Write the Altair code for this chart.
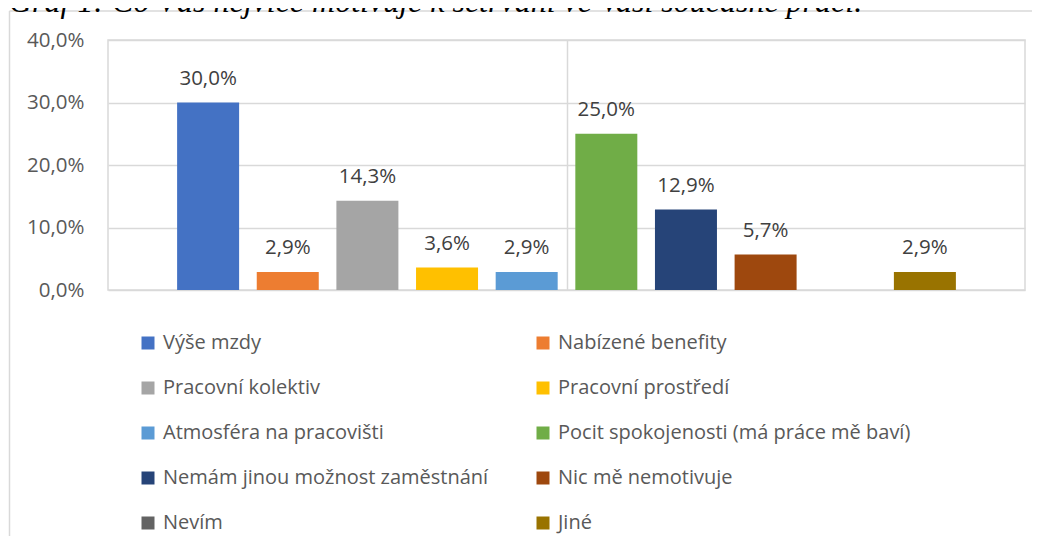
import altair as alt
import pandas as pd

categories = [
    "Výše mzdy", "Nabízené benefity", "Pracovní kolektiv", "Pracovní prostředí",
    "Atmosféra na pracovišti", "Pocit spokojenosti (má práce mě baví)",
    "Nemám jinou možnost zaměstnání", "Nic mě nemotivuje", "Nevím", "Jiné",
]
values = [0.300, 0.029, 0.143, 0.036, 0.029, 0.250, 0.129, 0.057, None, 0.029]
colors = ["#4472C4", "#ED7D31", "#A5A5A5", "#FFC000", "#5B9BD5",
          "#70AD47", "#264478", "#9E480E", "#636363", "#997300"]
y_ticks = [0.0, 0.1, 0.2, 0.3, 0.4]
title_text = ["Graf 1: Co Vás nejvíce motivuje k setrvání ve Vaší současné práci."]

df = pd.DataFrame({"cat": categories, "v": values, "i": list(range(len(categories)))})
df_title = pd.DataFrame({"t": title_text})

FONT = "Open Sans"
GRID = "#d9d9d9"

x_enc = alt.X("i:Q", scale=alt.Scale(domain=[-1.257, 10.257], nice=False, zero=False,
                                     padding=0),
              axis=alt.Axis(values=[4.5], grid=True, gridColor=GRID, gridWidth=1.5,
                            labels=False, ticks=False, domain=False, title=None))
y_enc = alt.Y("v:Q", scale=alt.Scale(domain=[0, 0.4], nice=False),
              axis=alt.Axis(values=y_ticks, grid=True, gridColor=GRID, gridWidth=1.5,
                            domain=False, ticks=False, title=None, labelPadding=24,
                            labelFont=FONT, labelFontSize=20.5, labelColor="#595959",
                            labelExpr="replace(format(datum.value, '.1%'), '.', ',')"))

base = alt.Chart(df)

bars = base.mark_bar(size=62).encode(
    x=x_enc,
    y=y_enc,
    color=alt.Color("cat:N", scale=alt.Scale(domain=categories, range=colors),
                    sort=categories,
                    legend=alt.Legend(title=None, orient="none", legendX=30, legendY=293,
                                      columns=2, direction="horizontal",
                                      symbolType="square", symbolSize=169,
                                      symbolStrokeWidth=0, labelFont=FONT,
                                      labelFontSize=20, labelColor="#595959",
                                      labelOffset=5, labelLimit=600, rowPadding=25,
                                      columnPadding=44, padding=0)),
).transform_filter("isValid(datum.v)")

labels = base.mark_text(baseline="alphabetic", dy=-17.5, font=FONT, fontSize=20.5,
                        color="#404040").encode(
    x="i:Q", y="v:Q", text="lbl:N"
).transform_filter("isValid(datum.v)").transform_calculate(
    lbl="replace(format(datum.v, '.1%'), '.', ',')"
)

title = alt.Chart(df_title).mark_text(
    align="left", baseline="alphabetic", font="Liberation Serif", fontStyle="italic",
    fontSize=32, color="#000000"
).encode(x=alt.value(-99), y=alt.value(-28), text="t:N")

frame_left = alt.Chart(df_title).mark_rule(color=GRID, strokeWidth=1.5).encode(
    x=alt.value(-98.5), y=alt.value(-29), y2=alt.value(520))
frame_top = alt.Chart(df_title).mark_rule(color=GRID, strokeWidth=1.5).encode(
    x=alt.value(-98.5), x2=alt.value(1000), y=alt.value(-29))

chart = alt.layer(frame_left, frame_top, title, bars, labels).properties(
    width=917, height=250,
    autosize=alt.AutoSizeParams(type="none"),
    padding={"left": 100, "top": 32, "right": 7, "bottom": 246},
).configure_view(stroke=GRID, strokeWidth=1.5)

chart.save("out.html", embed_options={"renderer": "svg", "actions": False})
